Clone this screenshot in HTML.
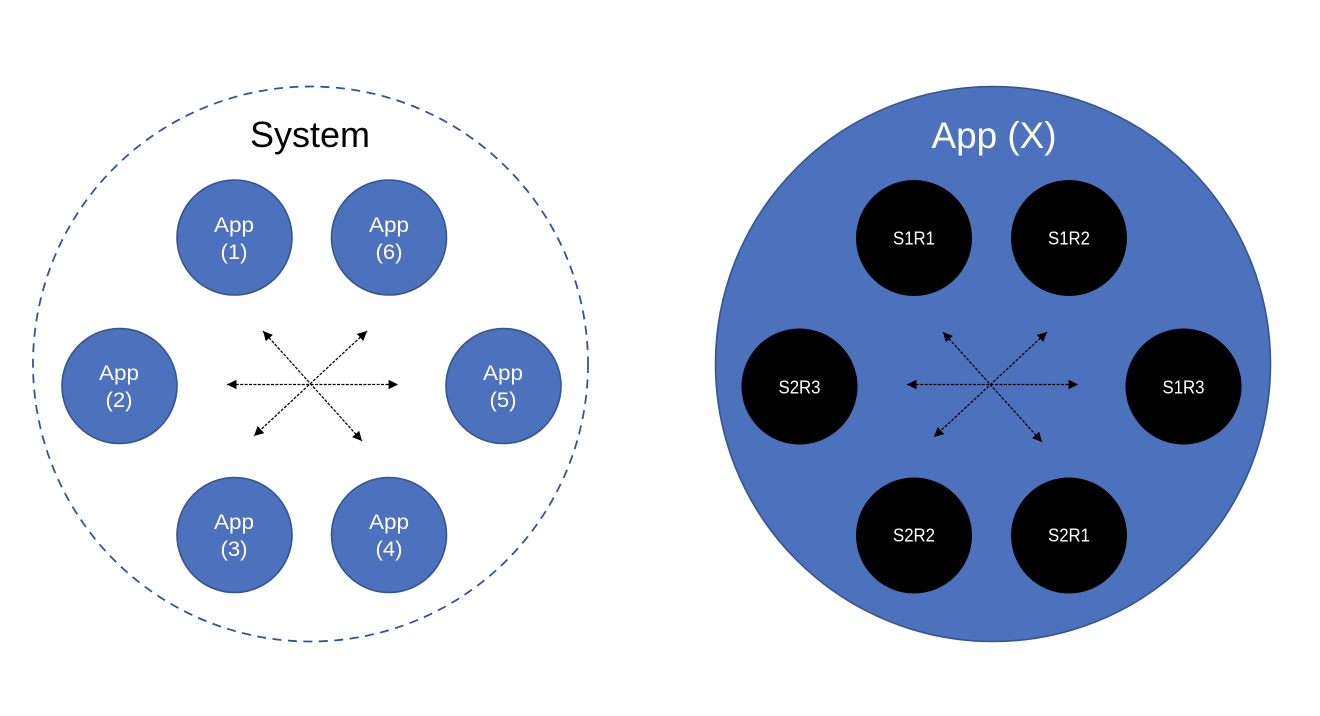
<!DOCTYPE html>
<html>
<head>
<meta charset="utf-8">
<style>
html,body{margin:0;padding:0;background:#fff;width:1320px;height:716px;overflow:hidden}
svg{display:block}
text{font-family:"Liberation Sans",sans-serif;text-anchor:middle}
.l{font-size:21.5px;fill:#fff}
.s{font-size:18.5px;fill:#fff}
.a{fill:#4d72bd;stroke:#34558f;stroke-width:1.6}
.b{fill:#000}
.d{stroke:#000;stroke-width:1.25;stroke-dasharray:3 1.4;fill:none}
</style>
</head>
<body>
<svg width="1320" height="716" viewBox="0 0 1320 716" xmlns="http://www.w3.org/2000/svg">
<defs>
<marker id="h" viewBox="0 0 10 10" refX="10" refY="5" markerWidth="9.5" markerHeight="9.5" markerUnits="userSpaceOnUse" orient="auto-start-reverse"><path d="M0 0L10 5L0 10Z" fill="#000"/></marker>
</defs>

<circle cx="310.5" cy="364" r="277.5" fill="#fff" stroke="#34558f" stroke-width="1.8" stroke-dasharray="9 6.5"/>
<text x="310" y="147" font-size="36" fill="#000" textLength="120" lengthAdjust="spacingAndGlyphs">System</text>

<circle class="a" cx="234.5" cy="237.5" r="57.5"/>
<circle class="a" cx="389" cy="237.5" r="57.5"/>
<circle class="a" cx="119.5" cy="386" r="57.5"/>
<circle class="a" cx="503.5" cy="386" r="57.5"/>
<circle class="a" cx="234.5" cy="535" r="57.5"/>
<circle class="a" cx="389" cy="535" r="57.5"/>

<text class="l" x="234" y="232" textLength="40" lengthAdjust="spacingAndGlyphs">App</text><text class="l" x="234" y="259" textLength="27" lengthAdjust="spacingAndGlyphs">(1)</text>
<text class="l" x="389" y="232" textLength="40" lengthAdjust="spacingAndGlyphs">App</text><text class="l" x="389" y="259" textLength="27" lengthAdjust="spacingAndGlyphs">(6)</text>
<text class="l" x="119" y="380" textLength="40" lengthAdjust="spacingAndGlyphs">App</text><text class="l" x="119" y="407" textLength="27" lengthAdjust="spacingAndGlyphs">(2)</text>
<text class="l" x="503" y="380" textLength="40" lengthAdjust="spacingAndGlyphs">App</text><text class="l" x="503" y="407" textLength="27" lengthAdjust="spacingAndGlyphs">(5)</text>
<text class="l" x="234" y="529" textLength="40" lengthAdjust="spacingAndGlyphs">App</text><text class="l" x="234" y="556" textLength="27" lengthAdjust="spacingAndGlyphs">(3)</text>
<text class="l" x="389" y="529" textLength="40" lengthAdjust="spacingAndGlyphs">App</text><text class="l" x="389" y="556" textLength="27" lengthAdjust="spacingAndGlyphs">(4)</text>

<g class="d">
<line x1="227" y1="384.5" x2="398" y2="384.5" marker-start="url(#h)" marker-end="url(#h)"/>
<line x1="263" y1="331" x2="362" y2="441" marker-start="url(#h)" marker-end="url(#h)"/>
<line x1="367" y1="331" x2="254" y2="436" marker-start="url(#h)" marker-end="url(#h)"/>
</g>

<circle cx="993" cy="364" r="277.5" fill="#4d72bd" stroke="#34558f" stroke-width="1.6"/>
<text x="994" y="148" font-size="37" fill="#fff" textLength="125" lengthAdjust="spacingAndGlyphs">App (X)</text>

<circle class="b" cx="914" cy="238" r="58"/>
<circle class="b" cx="1069" cy="238" r="58"/>
<circle class="b" cx="799.5" cy="386.5" r="58"/>
<circle class="b" cx="1183.5" cy="386.5" r="58"/>
<circle class="b" cx="914" cy="535.5" r="58"/>
<circle class="b" cx="1069" cy="535.5" r="58"/>

<text class="s" x="914" y="244.5" textLength="42" lengthAdjust="spacingAndGlyphs">S1R1</text>
<text class="s" x="1069" y="244.5" textLength="42" lengthAdjust="spacingAndGlyphs">S1R2</text>
<text class="s" x="799.5" y="393.5" textLength="42" lengthAdjust="spacingAndGlyphs">S2R3</text>
<text class="s" x="1183.5" y="393.5" textLength="42" lengthAdjust="spacingAndGlyphs">S1R3</text>
<text class="s" x="914" y="541.5" textLength="42" lengthAdjust="spacingAndGlyphs">S2R2</text>
<text class="s" x="1069" y="541.5" textLength="42" lengthAdjust="spacingAndGlyphs">S2R1</text>

<g class="d">
<line x1="907" y1="384.5" x2="1078" y2="384.5" marker-start="url(#h)" marker-end="url(#h)"/>
<line x1="943" y1="332" x2="1042" y2="442" marker-start="url(#h)" marker-end="url(#h)"/>
<line x1="1047" y1="332" x2="934" y2="437" marker-start="url(#h)" marker-end="url(#h)"/>
</g>
</svg>
</body>
</html>
